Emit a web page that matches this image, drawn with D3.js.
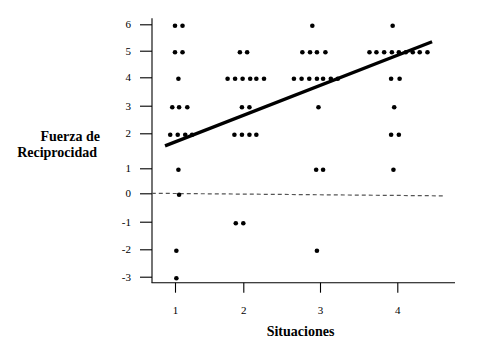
<!DOCTYPE html>
<html><head><meta charset="utf-8">
<script src="https://cdn.jsdelivr.net/npm/d3@7"></script>
<style>
html,body{margin:0;padding:0;background:#fff;}
svg{display:block;}
text{font-family:"Liberation Serif","Times New Roman",serif;fill:#000;}
</style></head>
<body><svg id="c" width="477" height="337"></svg>
<script>
// ---- data ----
const situaciones = [1, 2, 3, 4];
const yTicks = [-3, -2, -1, 0, 1, 2, 3, 4, 5, 6];
// each point: x position (situation, with spread), y value
const pointX = [
  1.00, 1.11, 1.00, 1.11, 1.05, 0.96, 1.06, 1.18, 0.93, 1.04, 1.15, 1.25, 1.05, 1.06, 1.02, 1.02,
  1.95, 2.05, 1.77, 1.88, 1.99, 2.09, 2.17, 2.27, 1.98, 2.08, 1.87, 1.98, 2.08, 2.17, 1.89, 2.00,
  2.90, 2.77, 2.87, 2.96, 3.07, 2.66, 2.76, 2.86, 2.96, 3.04, 3.14, 3.23, 2.98, 2.95, 3.04, 2.96,
  3.94, 3.64, 3.73, 3.83, 3.93, 4.02, 4.11, 4.20, 4.29, 4.39, 3.92, 4.03, 3.96, 3.92, 4.02, 3.95
];
const pointY = [
  6, 6, 5, 5, 4, 3, 3, 3, 2, 2, 2, 2, 1, 0, -2, -3,
  5, 5, 4, 4, 4, 4, 4, 4, 3, 3, 2, 2, 2, 2, -1, -1,
  6, 5, 5, 5, 5, 4, 4, 4, 4, 4, 4, 4, 3, 1, 1, -2,
  6, 5, 5, 5, 5, 5, 5, 5, 5, 5, 4, 4, 3, 2, 2, 1
];
const regX = [0.854, 4.45];
const regY = [1.64, 5.34];
const zeroX = [0.66, 4.61];
const zeroY = [0, -0.09];

// ---- scales ----
const svg = d3.select("#c");
const x = d3.scaleLinear().domain([1, 2, 3, 4]).range([175, 243.3, 320, 397.3]);
const y = d3.scaleLinear().domain(yTicks).range([276.7, 249.3, 221.7, 193.3, 168.3, 133.3, 105.7, 77.3, 50.7, 24.3]);

// y axis
const yAxis = svg.append("g").attr("transform", "translate(152,0)")
  .call(d3.axisLeft(y).tickValues(yTicks).tickSize(12).tickPadding(9).tickFormat(d => String(d)));
yAxis.select(".domain").attr("d", "M0,18.3V282.7");
yAxis.selectAll("text").style("font-size", "11px").style("font-family", '"Liberation Serif",serif');

// x axis
const xAxis = svg.append("g").attr("transform", "translate(0,282.7)")
  .call(d3.axisBottom(x).tickValues(situaciones).tickSize(10).tickPadding(14).tickFormat(d => String(d)));
xAxis.select(".domain").attr("d", "M151.5,0H455");
xAxis.selectAll("text").style("font-size", "11px").style("font-family", '"Liberation Serif",serif');
svg.selectAll(".domain, .tick line").attr("stroke", "#000").attr("stroke-width", 1.1);

// zero dashed line
svg.append("line")
  .attr("x1", x(zeroX[0])).attr("y1", y(zeroY[0]))
  .attr("x2", x(zeroX[1])).attr("y2", y(zeroY[1]))
  .attr("stroke", "#555").attr("stroke-width", 1.2).attr("stroke-dasharray", "4,3");

// points
svg.append("g").selectAll("circle").data(pointX.map((d, i) => [d, pointY[i]]))
  .join("circle")
  .attr("cx", d => x(d[0]))
  .attr("cy", d => y(d[1]) + 1.5)
  .attr("r", 2.3)
  .attr("fill", "#000");

// regression line
svg.append("line")
  .attr("x1", x(regX[0])).attr("y1", y(regY[0]))
  .attr("x2", x(regX[1])).attr("y2", y(regY[1]))
  .attr("stroke", "#000").attr("stroke-width", 3.3);

// labels
svg.append("text").attr("x", 300.5).attr("y", 335.5).attr("text-anchor", "middle")
  .style("font-size", "14px").style("font-weight", "bold").text("Situaciones");
svg.append("text").attr("x", 100).attr("y", 141).attr("text-anchor", "end")
  .style("font-size", "14px").style("font-weight", "bold").text("Fuerza de");
svg.append("text").attr("x", 97).attr("y", 157.3).attr("text-anchor", "end")
  .style("font-size", "14px").style("font-weight", "bold").text("Reciprocidad");
</script></body></html>
